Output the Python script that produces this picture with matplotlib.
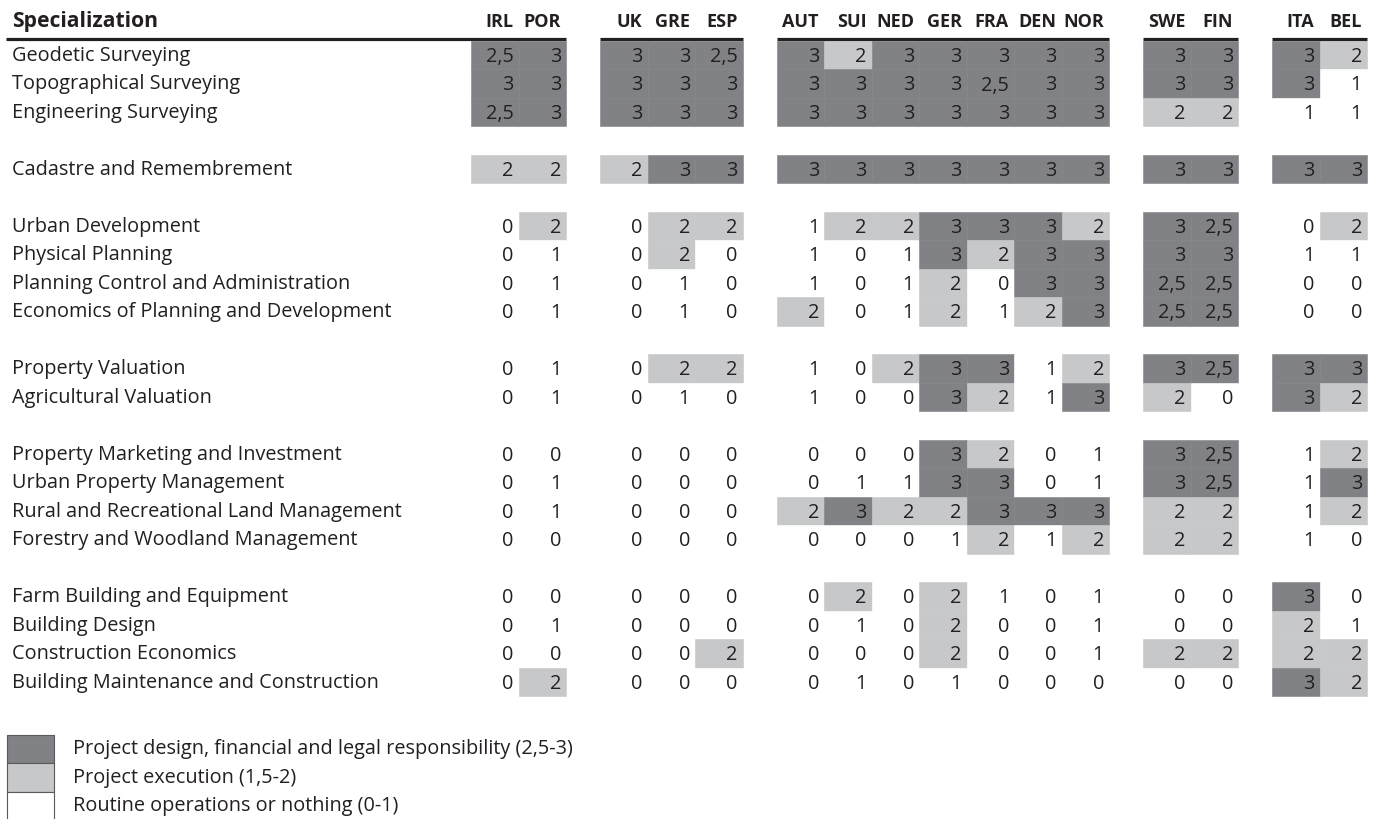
import matplotlib
matplotlib.use('Agg')
import matplotlib.pyplot as plt

# ---------------- data ----------------
countries = ['IRL', 'POR', 'UK', 'GRE', 'ESP', 'AUT', 'SUI', 'NED', 'GER', 'FRA',
             'DEN', 'NOR', 'SWE', 'FIN', 'ITA', 'BEL']
country_groups = [2, 3, 7, 2, 2]

specializations = [
    'Geodetic Surveying', 'Topographical Surveying', 'Engineering Surveying',
    'Cadastre and Remembrement',
    'Urban Development', 'Physical Planning', 'Planning Control and Administration',
    'Economics of Planning and Development',
    'Property Valuation', 'Agricultural Valuation',
    'Property Marketing and Investment', 'Urban Property Management',
    'Rural and Recreational Land Management', 'Forestry and Woodland Management',
    'Farm Building and Equipment', 'Building Design', 'Construction Economics',
    'Building Maintenance and Construction',
]
spec_groups = [3, 1, 4, 2, 4, 4]

irl = [2.5, 3, 2.5, 2, 0, 0, 0, 0, 0, 0, 0, 0, 0, 0, 0, 0, 0, 0]
por = [3, 3, 3, 2, 2, 1, 1, 1, 1, 1, 0, 1, 1, 0, 0, 1, 0, 2]
uk  = [3, 3, 3, 2, 0, 0, 0, 0, 0, 0, 0, 0, 0, 0, 0, 0, 0, 0]
gre = [3, 3, 3, 3, 2, 2, 1, 1, 2, 1, 0, 0, 0, 0, 0, 0, 0, 0]
esp = [2.5, 3, 3, 3, 2, 0, 0, 0, 2, 0, 0, 0, 0, 0, 0, 0, 2, 0]
aut = [3, 3, 3, 3, 1, 1, 1, 2, 1, 1, 0, 0, 2, 0, 0, 0, 0, 0]
sui = [2, 3, 3, 3, 2, 0, 0, 0, 0, 0, 0, 1, 3, 0, 2, 1, 0, 1]
ned = [3, 3, 3, 3, 2, 1, 1, 1, 2, 0, 0, 1, 2, 0, 0, 0, 0, 0]
ger = [3, 3, 3, 3, 3, 3, 2, 2, 3, 3, 3, 3, 2, 1, 2, 2, 2, 1]
fra = [3, 2.5, 3, 3, 3, 2, 0, 1, 3, 2, 2, 3, 3, 2, 1, 0, 0, 0]
den = [3, 3, 3, 3, 3, 3, 3, 2, 1, 1, 0, 0, 3, 1, 0, 0, 0, 0]
nor = [3, 3, 3, 3, 2, 3, 3, 3, 2, 3, 1, 1, 3, 2, 1, 1, 1, 0]
swe = [3, 3, 2, 3, 3, 3, 2.5, 2.5, 3, 2, 3, 3, 2, 2, 0, 0, 2, 0]
fin = [3, 3, 2, 3, 2.5, 3, 2.5, 2.5, 2.5, 0, 2.5, 2.5, 2, 2, 0, 0, 2, 0]
ita = [3, 3, 1, 3, 0, 1, 0, 0, 3, 3, 1, 1, 1, 1, 3, 2, 2, 3]
bel = [2, 1, 1, 3, 2, 1, 0, 0, 3, 2, 2, 3, 2, 0, 0, 1, 2, 2]
columns = [irl, por, uk, gre, esp, aut, sui, ned, ger, fra, den, nor, swe, fin, ita, bel]

legend_labels = ['Project design, financial and legal responsibility (2,5-3)',
                 'Project execution (1,5-2)',
                 'Routine operations or nothing (0-1)']

# ---------------- style ----------------
DARK = '#808285'
LIGHT = '#c7c8ca'
WHITE = '#ffffff'
INK = '#231f20'
FONT = ['Open Sans', 'DejaVu Sans']
plt.rcParams['font.family'] = FONT

W, H = 1378, 820
fig = plt.figure(figsize=(W / 100, H / 100), dpi=100)
ax = fig.add_axes([0, 0, 1, 1])
ax.set_xlim(0, W)
ax.set_ylim(H, 0)
ax.axis('off')

cell_w = 47.5
row_h = 28.5
block_gap = 34
x0 = 471
y0 = 41.5
label_x = 11.7
fs = 14.3


def shade(v):
    if v >= 2.5:
        return DARK
    if v >= 1.5:
        return LIGHT
    return WHITE


def fmt(v):
    return str(v).replace('.', ',') if v != int(v) else str(int(v))


# column positions
col_left = []
count = 0
for g, n in enumerate(country_groups):
    for k in range(n):
        col_left.append(x0 + count * cell_w + g * block_gap)
        count += 1

# row slots (blank row between groups)
row_top = []
slot = 0
for g, n in enumerate(spec_groups):
    for k in range(n):
        row_top.append(y0 + slot * row_h)
        slot += 1
    slot += 1

# cells
for j, col in enumerate(columns):
    colors = [shade(v) for v in col]
    ax.bar([col_left[j]] * len(col), [row_h] * len(col), width=cell_w,
           bottom=row_top, align='edge', color=colors,
           edgecolor=colors, linewidth=0.4)
    for i, v in enumerate(col):
        ax.text(col_left[j] + cell_w - 5, row_top[i] + 20.5, fmt(v),
                ha='right', va='baseline', fontsize=fs, color=INK)

# row labels
for i, name in enumerate(specializations):
    ax.text(label_x, row_top[i] + 19.5, name, ha='left', va='baseline',
            fontsize=fs, color=INK)

# headers
ax.text(label_x, 27.3, 'Specialization', ha='left', va='baseline',
        fontsize=15.2, fontweight='bold', color=INK)
for j, c in enumerate(countries):
    ax.text(col_left[j] + cell_w - 5, 27.3, c, ha='right', va='baseline',
            fontsize=13.0, fontweight='bold', color=INK)

# thick rules over each block
start = 0
for g, n in enumerate(country_groups):
    left = col_left[start]
    right = col_left[start + n - 1] + cell_w
    if g == 0:
        left = 6
    ax.hlines(40, left, right, color=INK, linewidth=2.3)
    start += n

# legend
leg_top = 735.7
leg_colors = [DARK, LIGHT, WHITE]
tops = [leg_top + k * row_h for k in range(3)]
ax.bar([7] * 3, [row_h] * 3, width=47, bottom=tops, align='edge',
       color=leg_colors, edgecolor='#58595b', linewidth=0.8)
for k, lab in enumerate(legend_labels):
    ax.text(73, tops[k] + 18.5, lab, ha='left', va='baseline', fontsize=fs, color=INK)

fig.savefig('out.png', dpi=100)
